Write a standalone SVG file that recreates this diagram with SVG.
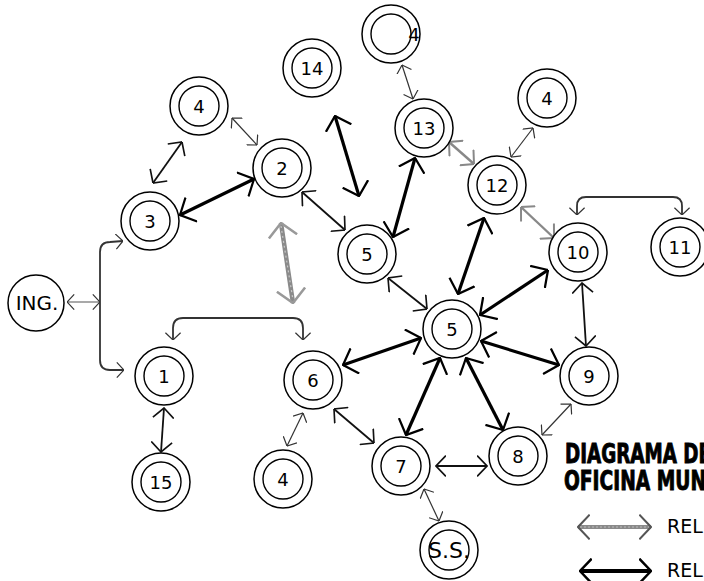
<svg xmlns="http://www.w3.org/2000/svg" width="704" height="581" viewBox="0 0 704 581">
<style>
.o{fill:#fff;stroke:#000;stroke-width:1.5}
.i{fill:none;stroke:#000;stroke-width:1.4}
.t{font-family:"DejaVu Sans",Verdana,sans-serif;font-size:18px;fill:#000;text-anchor:middle}
.thin{stroke:#333;stroke-width:1.2;fill:none;marker-start:url(#ht);marker-end:url(#ht)}
.med{stroke:#111;stroke-width:1.8;fill:none;marker-start:url(#hm);marker-end:url(#hm)}
.thick{stroke:#000;stroke-width:3.2;fill:none;marker-start:url(#hk);marker-end:url(#hk)}
.gray{stroke:#888;stroke-width:2.4;fill:none;marker-start:url(#hg);marker-end:url(#hg)}
.br{stroke:#333;stroke-width:1.8;fill:none}
.lg{font-family:"DejaVu Sans",Verdana,sans-serif;font-size:19px;fill:#000}
</style>
<defs>
<marker id="ht" viewBox="0 0 10 20" refX="9.5" refY="10" markerWidth="8" markerHeight="16" markerUnits="userSpaceOnUse" orient="auto-start-reverse"><path d="M0.5,0.5 L9.5,10 L0.5,19.5" fill="none" stroke="#333" stroke-width="1.5"/></marker>
<marker id="hm" viewBox="0 0 10 20" refX="9.5" refY="10" markerWidth="11" markerHeight="22" markerUnits="userSpaceOnUse" orient="auto-start-reverse"><path d="M0.5,0.5 L9.5,10 L0.5,19.5" fill="none" stroke="#111" stroke-width="1.5"/></marker>
<marker id="hk" viewBox="0 0 10 20" refX="9.5" refY="10" markerWidth="14" markerHeight="28" markerUnits="userSpaceOnUse" orient="auto-start-reverse"><path d="M0.5,0.5 L9.5,10 L0.5,19.5" fill="none" stroke="#000" stroke-width="1.6"/></marker>
<marker id="hg" viewBox="0 0 10 20" refX="9.5" refY="10" markerWidth="11" markerHeight="22" markerUnits="userSpaceOnUse" orient="auto-start-reverse"><path d="M0.5,0.5 L9.5,10 L0.5,19.5" fill="none" stroke="#888" stroke-width="1.8"/></marker>
<marker id="hgb" viewBox="0 0 10 20" refX="9.5" refY="10" markerWidth="15" markerHeight="30" markerUnits="userSpaceOnUse" orient="auto-start-reverse"><path d="M0.5,0.5 L9.5,10 L0.5,19.5" fill="none" stroke="#999" stroke-width="1.7"/></marker>
<marker id="hl1" viewBox="0 0 10 20" refX="9.5" refY="10" markerWidth="13" markerHeight="26" markerUnits="userSpaceOnUse" orient="auto-start-reverse"><path d="M0.5,0.5 L9.5,10 L0.5,19.5" fill="none" stroke="#555" stroke-width="1.6"/></marker>
<marker id="hl2" viewBox="0 0 10 20" refX="9.5" refY="10" markerWidth="13" markerHeight="26" markerUnits="userSpaceOnUse" orient="auto-start-reverse"><path d="M0.5,0.5 L9.5,10 L0.5,19.5" fill="none" stroke="#000" stroke-width="1.9"/></marker>
</defs>
<rect width="704" height="581" fill="#fff"/>

<g id="connectors">
<path class="br" d="M67,302 H100" style="marker-start:url(#ht);marker-end:url(#ht);stroke-width:1.2;stroke:#555"/>
<path class="br" d="M100,302 V252 Q100,242 110,242 L123,241" style="marker-end:url(#ht)"/>
<path class="br" d="M100,302 V360 Q100,370 110,370 L124,370" style="marker-end:url(#ht)"/>
<path class="br" d="M173,340 V328 Q173,318 183,318 H293 Q303,318 303,328 V340" style="marker-start:url(#ht);marker-end:url(#ht)"/>
<path class="br" d="M577,215 V206 Q577,197 586,197 H673 Q682,197 682,206 V215" style="marker-start:url(#ht);marker-end:url(#ht)"/>
<line class="med" x1="153" y1="183" x2="182" y2="142"/>
<line class="thin" x1="232" y1="118" x2="257" y2="145"/>
<line class="thick" x1="180" y1="215" x2="254" y2="179"/>
<line class="med" x1="302" y1="192" x2="345" y2="230"/>
<g>
<line x1="281" y1="223" x2="293" y2="303" stroke="#8a8a8a" stroke-width="4.5" style="marker-start:url(#hgb);marker-end:url(#hgb)"/>
<line x1="281" y1="226" x2="293" y2="300" stroke="#c8c8c8" stroke-width="1.2" stroke-dasharray="2 3"/>
</g>
<line class="thick" x1="335" y1="116" x2="359" y2="196"/>
<line class="thin" x1="402" y1="65" x2="413" y2="99"/>
<line class="thick" x1="415" y1="158" x2="393" y2="237"/>
<line class="gray" x1="449" y1="142" x2="474" y2="164"/>
<line class="thin" x1="511" y1="157" x2="533" y2="128"/>
<line class="gray" x1="521" y1="207" x2="554" y2="238"/>
<line class="thick" x1="484" y1="218" x2="458" y2="294"/>
<line class="thick" x1="548" y1="270" x2="480" y2="315"/>
<line class="med" x1="582" y1="283" x2="586" y2="346"/>
<line class="med" x1="388" y1="278" x2="427" y2="309"/>
<line class="thick" x1="421" y1="338" x2="343" y2="365"/>
<line class="thick" x1="440" y1="358" x2="406" y2="435"/>
<line class="thick" x1="466" y1="358" x2="503" y2="430"/>
<line class="thick" x1="481" y1="341" x2="559" y2="365"/>
<line class="med" x1="334" y1="409" x2="374" y2="443"/>
<line class="thin" x1="303" y1="413" x2="287" y2="446"/>
<line class="med" x1="164" y1="408" x2="161" y2="452"/>
<line class="med" x1="436" y1="466" x2="487" y2="466"/>
<line class="thin" x1="542" y1="435" x2="571" y2="404"/>
<line class="thin" x1="424" y1="489" x2="439" y2="521"/>
</g>

<g id="n14"><circle class="o" cx="312" cy="68" r="29"/><circle class="i" cx="312" cy="68" r="20"/><text class="t" x="312" y="74.5">14</text></g>
<g id="n4a"><circle class="o" cx="199" cy="106" r="29"/><circle class="i" cx="199" cy="106" r="20"/><text class="t" x="199" y="112.5">4</text></g>
<g id="n2"><circle class="o" cx="282" cy="168" r="29"/><circle class="i" cx="282" cy="168" r="20"/><text class="t" x="282" y="174.5">2</text></g>
<g id="n3"><circle class="o" cx="150" cy="221" r="29"/><circle class="i" cx="150" cy="221" r="20"/><text class="t" x="150" y="227.5">3</text></g>
<g id="ing"><circle class="o" cx="36" cy="303" r="28"/><text class="t" x="37" y="310" style="font-size:20px">ING.</text></g>
<g id="n4top"><circle class="o" cx="391" cy="34" r="29"/><circle class="i" cx="391" cy="34" r="20"/><text class="t" x="414" y="41">4</text></g>
<g id="n13"><circle class="o" cx="424" cy="128" r="29"/><circle class="i" cx="424" cy="128" r="20"/><text class="t" x="424" y="134.5">13</text></g>
<g id="n4b"><circle class="o" cx="547" cy="98" r="29"/><circle class="i" cx="547" cy="98" r="20"/><text class="t" x="547" y="104.5">4</text></g>
<g id="n12"><circle class="o" cx="497" cy="185" r="29"/><circle class="i" cx="497" cy="185" r="20"/><text class="t" x="497" y="191.5">12</text></g>
<g id="n10"><circle class="o" cx="578" cy="252" r="29"/><circle class="i" cx="578" cy="252" r="20"/><text class="t" x="578" y="258.5">10</text></g>
<g id="n11"><circle class="o" cx="680" cy="247" r="29"/><circle class="i" cx="680" cy="247" r="20"/><text class="t" x="680" y="253.5">11</text></g>
<g id="n5a"><circle class="o" cx="367" cy="254" r="29"/><circle class="i" cx="367" cy="254" r="20"/><text class="t" x="367" y="260.5">5</text></g>
<g id="n5"><circle class="o" cx="452" cy="329" r="29"/><circle class="i" cx="452" cy="329" r="20"/><text class="t" x="452" y="335.5">5</text></g>
<g id="n6"><circle class="o" cx="313" cy="380" r="29"/><circle class="i" cx="313" cy="380" r="20"/><text class="t" x="313" y="386.5">6</text></g>
<g id="n1"><circle class="o" cx="164" cy="376" r="29"/><circle class="i" cx="164" cy="376" r="20"/><text class="t" x="164" y="382.5">1</text></g>
<g id="n15"><circle class="o" cx="161" cy="482" r="29"/><circle class="i" cx="161" cy="482" r="20"/><text class="t" x="161" y="488.5">15</text></g>
<g id="n4c"><circle class="o" cx="283" cy="479" r="29"/><circle class="i" cx="283" cy="479" r="20"/><text class="t" x="283" y="485.5">4</text></g>
<g id="n9"><circle class="o" cx="589" cy="376" r="29"/><circle class="i" cx="589" cy="376" r="20"/><text class="t" x="589" y="382.5">9</text></g>
<g id="n7"><circle class="o" cx="401" cy="466" r="29"/><circle class="i" cx="401" cy="466" r="20"/><text class="t" x="401" y="472.5">7</text></g>
<g id="n8"><circle class="o" cx="518" cy="456" r="29"/><circle class="i" cx="518" cy="456" r="20"/><text class="t" x="518" y="462.5">8</text></g>
<g id="nss"><circle class="o" cx="449" cy="550" r="29"/><circle class="i" cx="449" cy="550" r="20"/><text class="t" x="449" y="558" style="font-size:22px">S.S.</text></g>

<g id="title" font-family="'DejaVu Sans Condensed','DejaVu Sans',sans-serif" font-weight="bold" font-size="27" fill="#000" stroke="#000" stroke-width="0.9">
<text x="565" y="463" textLength="146" lengthAdjust="spacingAndGlyphs">DIAGRAMA DE</text>
<text x="564" y="490" textLength="142" lengthAdjust="spacingAndGlyphs">OFICINA MUN</text>
</g>

<g id="legend">
<line x1="578" y1="527" x2="651" y2="527" stroke="#8a8a8a" stroke-width="4" style="marker-start:url(#hl1);marker-end:url(#hl1)"/>
<line x1="580" y1="527" x2="649" y2="527" stroke="#bbb" stroke-width="1" stroke-dasharray="2 2"/>
<text class="lg" x="667" y="533">REL</text>
<line x1="580" y1="571" x2="651" y2="571" stroke="#000" stroke-width="4" style="marker-start:url(#hl2);marker-end:url(#hl2)"/>
<text class="lg" x="667" y="577">REL</text>
</g>
</svg>
